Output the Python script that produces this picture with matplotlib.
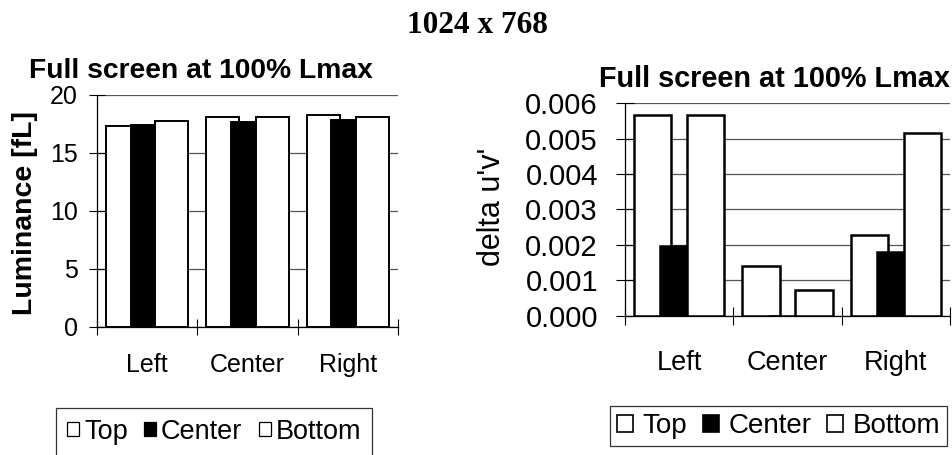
import numpy as np
import matplotlib
matplotlib.use("Agg")
import matplotlib.pyplot as plt
from matplotlib.patches import Patch

plt.rcParams['font.family'] = ['Liberation Sans', 'DejaVu Sans']

# ---------------- data ----------------
categories = ["Left", "Center", "Right"]
series_names = ["Top", "Center", "Bottom"]

lum_top = [17.35, 18.1, 18.3]
lum_center = [17.45, 17.65, 17.85]
lum_bottom = [17.75, 18.1, 18.1]

duv_top = [0.00567, 0.00141, 0.00227]
duv_center = [0.00198, 0.0, 0.00181]
duv_bottom = [0.00567, 0.00073, 0.00515]

lum_ticks = [0, 5, 10, 15, 20]
duv_ticks = [0.000, 0.001, 0.002, 0.003, 0.004, 0.005, 0.006]

W, H = 953, 455
fig = plt.figure(figsize=(W / 100, H / 100), dpi=100)

def fx(px):
    return px / W

def fy(py):
    return 1 - py / H

colors = ["white", "black", "white"]
offsets = [-0.245, 0.0, 0.245]


def style_axes(ax, ymax, yticks, ylabfmt, ytsize, xtsize, ypad, xpad, tick_len):
    ax.set_xlim(0, 3)
    ax.set_ylim(0, ymax)
    ax.set_axisbelow(True)
    ax.grid(axis='y', color='#555555', linewidth=0.9)
    ax.set_yticks(yticks)
    ax.set_yticklabels([ylabfmt(v) for v in yticks], fontsize=ytsize)
    ax.set_xticks([0, 1, 2, 3])
    ax.set_xticklabels([])
    ax.set_xticks(np.arange(3) + 0.5, minor=True)
    ax.set_xticklabels(categories, minor=True, fontsize=xtsize)
    ax.tick_params(axis='x', which='minor', length=0, pad=xpad)
    ax.tick_params(axis='x', which='major', direction='inout', length=tick_len, width=0.8)
    ax.tick_params(axis='y', direction='inout', length=tick_len, width=0.8, pad=ypad)
    for s in ['top', 'right']:
        ax.spines[s].set_visible(False)
    ax.spines['left'].set_linewidth(0.9)
    ax.spines['bottom'].set_linewidth(0.9)


# ---------------- left chart ----------------
axL = fig.add_axes([fx(97), fy(327), fx(398) - fx(97), fy(95) - fy(327)])
x = np.arange(len(categories)) + 0.5
for vals, c, off in zip([lum_top, lum_center, lum_bottom], colors, offsets):
    axL.bar(x + off, vals, width=0.33, color=c, edgecolor='black', linewidth=1.4)
style_axes(axL, 20, lum_ticks, lambda v: f"{v:g}", 18, 18, 8, 19, 11.5)
fig.text(fx(25), fy(213), "Luminance [fL]", rotation=90, ha='center', va='center',
         fontsize=20.5, fontweight='bold')
fig.text(fx(201), fy(78), "Full screen at 100% Lmax", ha='center', va='baseline',
         fontsize=20.3, fontweight='bold')

# ---------------- right chart ----------------
axR = fig.add_axes([fx(625), fy(315.7), fx(950) - fx(625), fy(103.3) - fy(315.7)])
for vals, c, off in zip([duv_top, duv_center, duv_bottom], colors, offsets):
    axR.bar(x + off, vals, width=0.345, color=c, edgecolor='black', linewidth=1.8)
style_axes(axR, 0.006, duv_ticks, lambda v: f"{v:.3f}", 21, 19.5, 13, 25, 13)
fig.text(fx(492), fy(207), "delta u'v'", rotation=90, ha='center', va='center',
         fontsize=22)
fig.text(fx(774), fy(86.7), "Full screen at 100% Lmax", ha='center', va='baseline',
         fontsize=20.8, fontweight='bold')

# ---------------- super title ----------------
fig.text(fx(477), fy(33.3), "1024 x 768", ha='center', va='baseline',
         fontsize=22.5, fontweight='bold', family=['Liberation Serif', 'DejaVu Serif'])

# ---------------- legends ----------------
def make_handles(lw):
    return [Patch(facecolor=c, edgecolor='black', linewidth=lw) for c in colors]

legL = fig.legend(make_handles(0.9), series_names, loc='upper left',
                  bbox_to_anchor=(fx(56), fy(408)), ncol=3, fontsize=19.5,
                  handlelength=0.45, handleheight=0.45, handletextpad=0.18,
                  columnspacing=0.6, borderpad=0.4, frameon=True, fancybox=False,
                  borderaxespad=0)
legL.get_frame().set_edgecolor('black')
legL.get_frame().set_linewidth(0.9)

legR = fig.legend(make_handles(1.2), series_names, loc='upper left',
                  bbox_to_anchor=(fx(610), fy(406)), ncol=3, fontsize=20,
                  handlelength=0.58, handleheight=0.58, handletextpad=0.35,
                  columnspacing=0.55, borderpad=0.25, frameon=True, fancybox=False,
                  borderaxespad=0)
legR.get_frame().set_edgecolor('black')
legR.get_frame().set_linewidth(0.9)

fig.savefig("out.png", dpi=100)
